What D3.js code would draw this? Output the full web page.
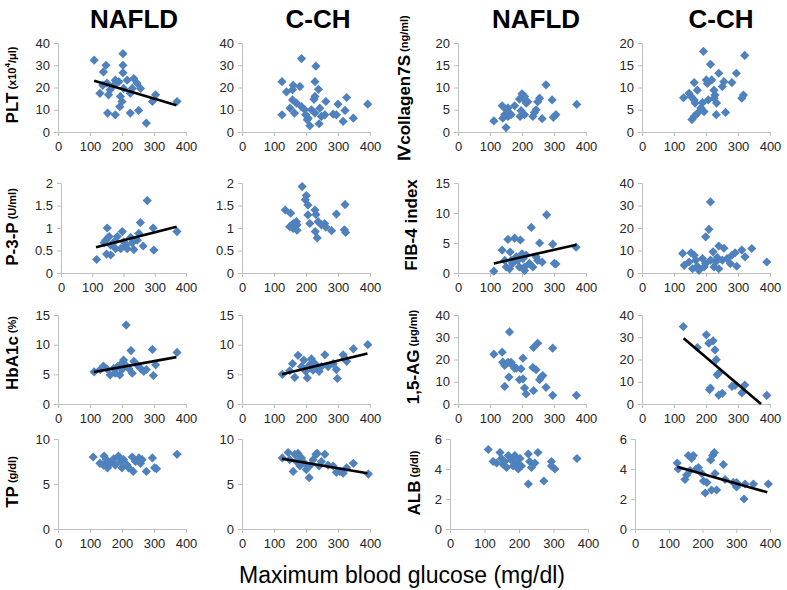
<!DOCTYPE html>
<html>
<head>
<meta charset="utf-8">
<script src="https://cdn.jsdelivr.net/npm/d3@7"></script>
<style>
  html, body { margin: 0; padding: 0; background: #fff; }
  svg { display: block; font-family: "Liberation Sans", Arial, sans-serif; }
</style>
</head>
<body>
<svg id="chart" width="787" height="590"></svg>
<script>
// --- Data (max blood glucose mg/dl, value) ---
const groups = ["NAFLD", "C-CH"];
const xTicks = [0, 100, 200, 300, 400];

const pltNafld = [[113,32.3],[203,35.2],[203,30],[203,26.6],[150,30],[142,27],[153,22],[131,17.4],[163,19],[158,16.7],[179,23.3],[190,22.6],[195,16],[200,13.7],[193,11.4],[179,7.7],[155,8.5],[216,23.3],[232,19.6],[237,24],[247,21.9],[258,19.6],[226,8.5],[252,9.7],[276,4],[295,13.7],[305,16.7],[372,13.7],[174,21],[205,19.6],[226,17.4],[140,21]];
const pltCch = [[125,22.6],[125,7.7],[186,33],[231,29.6],[228,22.6],[239,19.2],[228,16],[225,14.7],[181,20.4],[160,21],[158,19],[139,18],[150,10.7],[164,8.5],[158,14.4],[170,13],[186,11.4],[196,10],[199,7.7],[207,6.2],[212,2.8],[204,5.5],[217,10],[228,8.5],[243,10.7],[248,7],[241,3.7],[259,7.7],[262,13.7],[285,8],[295,7.7],[300,12.5],[322,9.7],[327,15.5],[316,4.8],[348,6.2],[393,12.5]];

const col7sNafld = [[112,2.5],[138,5.9],[151,5],[146,3.9],[140,3.1],[150,1.0],[156,3.5],[161,4.2],[166,3.9],[177,5.9],[192,7.4],[200,8.6],[203,7.6],[208,8],[213,6.5],[197,4.8],[194,3.5],[208,3.9],[218,6.8],[234,3.5],[244,5],[239,4.4],[249,6.8],[255,7.6],[263,3.0],[275,10.6],[294,7.2],[298,3.3],[306,3.9],[371,6.2],[156,5.4]];
const col7sCch = [[130,7.7],[147,8.7],[153,8],[163,11.1],[163,7.2],[166,6.5],[173,9.4],[156,2.8],[163,3.5],[173,4.2],[184,5.4],[189,6.6],[194,4.6],[192,18.1],[201,11.7],[204,10.9],[207,7.2],[214,15.2],[218,11.7],[225,9.4],[228,8.3],[225,7.6],[233,6.5],[232,3.9],[240,13.2],[251,10.2],[256,11.3],[261,4.4],[281,11.1],[295,13.2],[312,7.6],[317,8.3],[321,17.2]];

const p3pNafld = [[114,0.30],[148,1.0],[143,0.73],[154,0.81],[138,0.67],[159,0.62],[170,0.69],[180,0.81],[146,0.42],[159,0.40],[175,0.54],[196,0.92],[201,0.69],[207,0.62],[212,0.54],[228,0.67],[233,0.52],[244,0.73],[249,0.88],[254,1.12],[263,0.60],[276,1.61],[295,1.0],[297,0.51],[371,0.92],[191,0.54],[223,0.79]];
const p3pCch = [[135,1.40],[152,1.33],[160,1.10],[170,1.14],[149,1.03],[160,0.99],[172,0.95],[172,1.07],[188,1.92],[198,1.63],[201,1.72],[206,1.51],[206,1.29],[212,1.10],[228,1.40],[231,1.30],[238,1.14],[229,0.92],[235,0.78],[248,1.07],[258,1.10],[262,1.02],[280,0.94],[295,1.31],[322,1.52],[320,0.96],[324,0.90]];

const fib4Nafld = [[112,0.3],[138,3.8],[146,2.1],[151,1.0],[156,5.6],[163,3.5],[161,0.7],[171,1.6],[177,5.8],[182,2.7],[192,1.0],[195,5.5],[200,3.2],[203,2.4],[208,1.0],[208,0.4],[213,3.0],[223,1.6],[229,7.6],[234,1.0],[244,2.7],[249,2.1],[255,5.0],[263,1.8],[277,9.7],[296,4.8],[301,1.6],[306,1.5],[369,4.3],[166,2.1],[187,2.1]];
const fib4Cch = [[127,8.7],[132,3.4],[147,4.9],[153,9.0],[158,1.9],[163,7.9],[168,5.7],[173,3.0],[178,1.2],[189,6.4],[194,2.7],[199,4.2],[199,16.1],[209,19.4],[214,31.6],[214,5.7],[222,9.4],[225,2.7],[230,4.9],[235,6.9],[240,12.0],[240,1.9],[251,5.7],[256,11.0],[266,6.4],[281,7.9],[291,9.0],[296,3.0],[312,10.2],[322,7.2],[343,10.9],[390,4.9],[276,4.2]];

const hba1cNafld = [[113,5.4],[142,6.4],[153,5.9],[163,4.9],[174,6.0],[179,5.2],[186,6.3],[193,4.9],[200,5.8],[205,7.4],[207,6.8],[213,13.3],[221,6.0],[228,9.0],[232,5.2],[237,7.2],[247,6.6],[258,6.0],[268,5.5],[276,5.8],[295,9.2],[298,4.8],[305,6.6],[372,8.7],[132,5.8],[195,6.6]];
const hba1cCch = [[126,5.0],[149,5.6],[158,6.8],[165,4.5],[175,8.2],[186,6.3],[193,7.4],[199,5.5],[204,4.4],[210,6.5],[217,7.6],[222,5.7],[228,6.8],[233,6.1],[241,5.5],[248,6.3],[259,8.3],[269,6.3],[285,6.8],[295,5.8],[298,4.3],[316,8.3],[322,7.7],[327,7.2],[348,9.3],[393,10.0]];

const ag15Nafld = [[112,22.4],[138,23.3],[140,18.8],[146,17.3],[146,7.9],[156,18.7],[159,12.1],[161,32.4],[166,18.7],[171,17.3],[177,16.1],[192,10.9],[197,15.8],[203,11.3],[203,20.6],[208,7.2],[213,4.5],[234,16.4],[236,25.4],[244,15.4],[249,27.3],[255,10.9],[260,12.1],[265,12.8],[236,6.0],[275,7.5],[296,25.1],[296,3.9],[370,3.9],[182,16.1]];
const ag15Cch = [[129,34.8],[173,25.4],[201,31.1],[209,27.3],[222,28.4],[228,24.3],[232,19.9],[235,13.1],[240,13.9],[211,6.4],[214,7.2],[240,4.0],[251,4.8],[281,7.9],[291,8.4],[312,5.0],[321,8.5],[390,3.9]];

const tpNafld = [[110,8.0],[131,7.3],[144,8.1],[151,7.7],[155,6.8],[163,7.3],[174,7.8],[179,7.1],[189,8.1],[195,7.5],[200,6.8],[205,7.7],[216,7.1],[232,8.0],[235,6.4],[242,7.5],[253,7.9],[258,7.3],[276,6.4],[295,7.9],[302,6.8],[308,6.7],[372,8.3],[142,7.1],[221,6.8],[263,7.7]];
const tpCch = [[126,7.9],[144,8.5],[149,7.7],[160,6.4],[165,8.3],[170,7.5],[175,8.4],[181,7.0],[186,7.9],[196,7.3],[201,6.6],[210,5.7],[214,7.1],[222,7.7],[231,8.3],[235,8.4],[241,7.0],[248,7.5],[259,8.3],[269,7.1],[285,7.0],[295,6.3],[306,6.4],[316,6.2],[327,6.8],[348,7.3],[395,6.1]];

const albNafld = [[111,5.3],[145,5.1],[135,4.4],[149,4.7],[154,4.3],[159,4.5],[169,4.9],[164,4.1],[178,4.6],[188,4.9],[193,4.4],[198,4.0],[203,4.7],[207,4.2],[227,5.0],[231,4.5],[236,4.1],[227,3.0],[246,4.4],[255,5.1],[272,3.2],[294,4.5],[294,4.2],[304,4.0],[368,4.7],[125,4.5],[183,4.2]];
const albCch = [[125,4.4],[128,4.0],[148,3.3],[153,3.6],[158,4.9],[168,4.7],[173,4.9],[163,3.9],[181,4.0],[188,4.1],[198,3.7],[203,3.2],[208,2.4],[213,3.1],[224,4.6],[230,4.9],[235,5.1],[237,3.7],[227,2.6],[242,2.6],[262,4.3],[267,3.3],[291,3.1],[301,2.8],[323,2.0],[326,3.0],[351,3.0],[395,3.0],[301,3.1]];

// Regression lines (start, end) where significant
const trendPltNafld = [[113,23.0],[370,12.0]];
const trendP3pNafld = [[112,0.57],[370,1.03]];
const trendFib4Nafld = [[112,1.6],[370,4.7]];
const trendHba1cNafld = [[112,5.4],[370,7.9]];
const trendHba1cCch = [[125,5.0],[392,8.5]];
const trendAg15Cch = [[130,29.5],[372,0]];
const trendTpCch = [[125,7.8],[392,6.2]];
const trendAlbCch = [[125,4.15],[392,2.45]];

// --- Layout (panels) ---
const ROWS = [
  { top: 43, bottom: 132 },
  { top: 183, bottom: 273 },
  { top: 315, bottom: 404 },
  { top: 439, bottom: 529 }
];
const COLS = [58, 242, 458, 642];
const PW = 128;
const BLUE = "#4f81bd";
const AXIS = "#bfbfbf";
const TXT = "#262626";

const panels = [
  { row: 0, col: 0, data: pltNafld, yMax: 40, yStep: 10, trend: trendPltNafld },
  { row: 0, col: 1, data: pltCch, yMax: 40, yStep: 10 },
  { row: 0, col: 2, data: col7sNafld, yMax: 20, yStep: 5 },
  { row: 0, col: 3, data: col7sCch, yMax: 20, yStep: 5 },
  { row: 1, col: 0, data: p3pNafld, yMax: 2, yStep: 0.5, trend: trendP3pNafld, left: 61, width: 125 },
  { row: 1, col: 1, data: p3pCch, yMax: 2, yStep: 0.5 },
  { row: 1, col: 2, data: fib4Nafld, yMax: 15, yStep: 5, trend: trendFib4Nafld },
  { row: 1, col: 3, data: fib4Cch, yMax: 40, yStep: 10 },
  { row: 2, col: 0, data: hba1cNafld, yMax: 15, yStep: 5, trend: trendHba1cNafld },
  { row: 2, col: 1, data: hba1cCch, yMax: 15, yStep: 5, trend: trendHba1cCch },
  { row: 2, col: 2, data: ag15Nafld, yMax: 40, yStep: 10 },
  { row: 2, col: 3, data: ag15Cch, yMax: 40, yStep: 10, trend: trendAg15Cch },
  { row: 3, col: 0, data: tpNafld, yMax: 10, yStep: 5 },
  { row: 3, col: 1, data: tpCch, yMax: 10, yStep: 5, trend: trendTpCch },
  { row: 3, col: 2, data: albNafld, yMax: 6, yStep: 2, left: 450, width: 138 },
  { row: 3, col: 3, data: albCch, yMax: 6, yStep: 2, left: 635, width: 135, trend: trendAlbCch }
];

// y-axis labels: main text, unit, position
const rowLabels = [
  { main: "PLT", unit: "(x10", sup: "4", unit2: "/μl)", x: 12, y: 85 },
  { main: "Ⅳcollagen7S", unit: "(ng/ml)", x: 404, y: 88 },
  { main: "P-3-P", unit: "(U/ml)", x: 12, y: 227 },
  { main: "FIB-4 index", unit: "", x: 411, y: 225 },
  { main: "HbA1c", unit: "(%)", x: 12, y: 353 },
  { main: "1,5-AG", unit: "(μg/ml)", x: 413, y: 357 },
  { main: "TP", unit: "(g/dl)", x: 12, y: 482 },
  { main: "ALB", unit: "(g/dl)", x: 414, y: 483 }
];

const titles = [
  { text: groups[0], x: 134 }, { text: groups[1], x: 318 },
  { text: groups[0], x: 536 }, { text: groups[1], x: 721 }
];

const svg = d3.select("#chart");
const diamond = "M0,-4.6L4.6,0L0,4.6L-4.6,0Z";

// --- Titles ---
svg.selectAll("text.title").data(titles).join("text")
  .attr("class", "title")
  .attr("x", d => d.x).attr("y", 28)
  .attr("text-anchor", "middle")
  .attr("font-size", 26).attr("font-weight", 700).attr("fill", "#000")
  .text(d => d.text);

// --- Panels ---
panels.forEach(p => {
  const r = ROWS[p.row];
  const left = p.left ?? COLS[p.col];
  const w = p.width ?? PW;
  const x = d3.scaleLinear().domain([0, 400]).range([left, left + w]);
  const y = d3.scaleLinear().domain([0, p.yMax]).range([r.bottom, r.top]);
  const g = svg.append("g");

  const yTicks = d3.range(0, p.yMax + p.yStep / 2, p.yStep);

  // x axis
  const gx = g.append("g").attr("transform", `translate(0,${r.bottom})`)
    .call(d3.axisBottom(x).tickValues(xTicks).tickSize(4).tickPadding(6).tickFormat(d3.format("d")));
  // y axis
  const gy = g.append("g").attr("transform", `translate(${left},0)`)
    .call(d3.axisLeft(y).tickValues(yTicks).tickSize(4).tickPadding(4).tickFormat(d => String(+d.toFixed(1))));

  [gx, gy].forEach(a => {
    a.select(".domain").attr("stroke", AXIS).attr("stroke-width", 1);
    a.selectAll(".tick line").attr("stroke", AXIS);
    a.selectAll(".tick text").attr("fill", TXT).attr("font-size", 13)
      .attr("font-family", "Liberation Sans, Arial, sans-serif");
  });

  // points
  g.selectAll("path.pt").data(p.data).join("path")
    .attr("class", "pt")
    .attr("d", diamond)
    .attr("transform", d => `translate(${x(d[0])},${y(d[1])})`)
    .attr("fill", BLUE);

  // trend line
  if (p.trend) {
    g.append("path")
      .attr("d", d3.line().x(d => x(d[0])).y(d => y(d[1]))(p.trend))
      .attr("fill", "none").attr("stroke", "#000").attr("stroke-width", 2.6);
  }
});

// --- Row labels (rotated) ---
rowLabels.forEach(l => {
  const t = svg.append("text")
    .attr("transform", `translate(${l.x},${l.y}) rotate(-90)`)
    .attr("text-anchor", "middle")
    .attr("dominant-baseline", "central")
    .attr("font-weight", 700).attr("fill", "#000");
  t.append("tspan").attr("font-size", 17).text(l.main);
  if (l.unit) {
    t.append("tspan").attr("font-size", 11).attr("dx", 3).text(l.unit);
    if (l.sup) {
      t.append("tspan").attr("font-size", 8).attr("dy", -5).text(l.sup);
      t.append("tspan").attr("font-size", 11).attr("dy", 5).text(l.unit2);
    }
  }
});

// --- X axis title ---
svg.append("text")
  .attr("x", 402).attr("y", 583)
  .attr("text-anchor", "middle")
  .attr("font-size", 23).attr("fill", "#000")
  .text("Maximum blood glucose (mg/dl)");
</script>
</body>
</html>
